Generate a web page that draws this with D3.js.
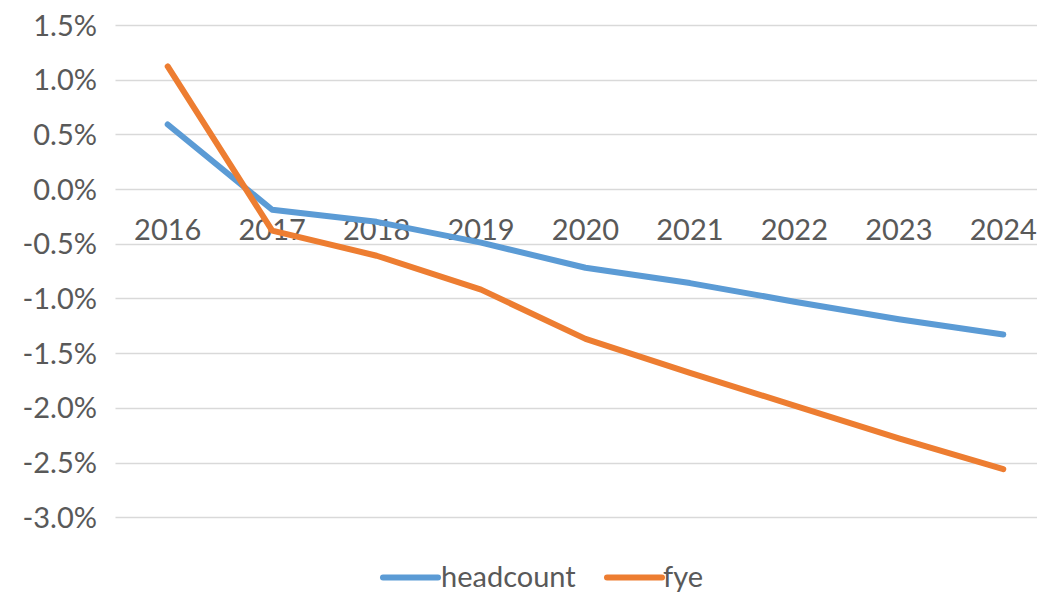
<!DOCTYPE html>
<html>
<head>
<meta charset="utf-8">
<script src="https://cdn.jsdelivr.net/npm/d3@7"></script>
<style>
  html, body { margin: 0; padding: 0; background: #fff; }
  svg { display: block; }
  text { font-family: Lato, "Open Sans", sans-serif; fill: #595959; }
</style>
</head>
<body>
<svg id="chart" width="1037" height="592"></svg>
<script>
const years = ["2016","2017","2018","2019","2020","2021","2022","2023","2024"];
const headcount = [0.59, -0.19, -0.30, -0.49, -0.72, -0.86, -1.03, -1.19, -1.33];
const fye = [1.12, -0.38, -0.61, -0.92, -1.37, -1.68, -1.98, -2.28, -2.56];
const yTicks = [1.5, 1.0, 0.5, 0.0, -0.5, -1.0, -1.5, -2.0, -2.5, -3.0];
const seriesNames = ["headcount", "fye"];
const colors = ["#5B9BD5", "#ED7D31"];

const svg = d3.select("#chart");
const fontSize = 29;

const x = d3.scaleBand().domain(years).range([115.5, 1055.5]).padding(0);
const cx = d => x(d) + x.bandwidth() / 2;
const y = d3.scaleLinear().domain([-3, 1.5]).range([517.2, 24.9]);

// gridlines
svg.append("g").selectAll("line").data(yTicks).join("line")
  .attr("x1", 115.5).attr("x2", 1055.5)
  .attr("y1", d => Math.round(y(d)) + 0.5).attr("y2", d => Math.round(y(d)) + 0.5)
  .attr("stroke", "#D9D9D9").attr("stroke-width", 1.5);

// y axis labels
const yAxis = d3.axisLeft(y).tickValues(yTicks).tickSize(0).tickPadding(0)
  .tickFormat(d => d.toFixed(1) + "%");
const gy = svg.append("g").attr("transform", "translate(97,0)").call(yAxis);
gy.select(".domain").remove();
gy.selectAll("text").attr("font-size", fontSize).attr("fill", "#595959")
  .style("font-family", "Lato, sans-serif").attr("dy", "0.35em");

// x axis labels (next to zero line)
svg.append("g").selectAll("text").data(years).join("text")
  .attr("x", d => cx(d)).attr("y", 240)
  .attr("text-anchor", "middle").attr("font-size", fontSize)
  .text(d => d);

// lines
const data = [headcount, fye];
const line = d3.line().x((d, i) => cx(years[i])).y(d => y(d));
svg.append("g").selectAll("path").data(data).join("path")
  .attr("d", d => line(d))
  .attr("fill", "none")
  .attr("stroke", (d, i) => colors[i])
  .attr("stroke-width", 6)
  .attr("stroke-linejoin", "round")
  .attr("stroke-linecap", "round");

// legend
const legendItems = [
  {name: seriesNames[0], color: colors[0], x1: 383, x2: 438, tx: 441},
  {name: seriesNames[1], color: colors[1], x1: 607, x2: 662, tx: 663}
];
const lg = svg.append("g");
legendItems.forEach(it => {
  lg.append("line").attr("x1", it.x1).attr("x2", it.x2).attr("y1", 577.5).attr("y2", 577.5)
    .attr("stroke", it.color).attr("stroke-width", 6).attr("stroke-linecap", "round");
  lg.append("text").attr("x", it.tx).attr("y", 587).attr("font-size", fontSize).text(it.name);
});
</script>
</body>
</html>
